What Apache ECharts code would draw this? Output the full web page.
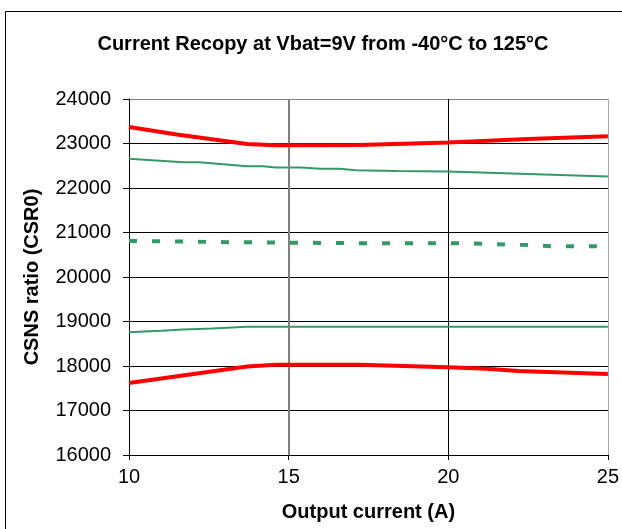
<!DOCTYPE html>
<html><head><meta charset="utf-8">
<script src="https://cdn.jsdelivr.net/npm/echarts@6/dist/echarts.min.js"></script>
<style>html,body{margin:0;padding:0;background:#fff}#c{width:622px;height:529px}</style>
</head><body><div id="c"></div>
<script>
const titleText = 'Current Recopy at Vbat=9V from -40°C to 125°C';
const xName = 'Output current (A)';
const yName = 'CSNS ratio (CSR0)';
const redUpperX = [10, 11.5, 13.7, 14.6, 17.2, 20, 22.5, 25];
const redUpperY = [23370, 23200, 22990, 22960, 22965, 23020, 23100, 23165];
const greenUpperX = [10, 11.7, 12.2, 13.7, 14.2, 14.6, 15.4, 16.0, 16.6, 17.1, 18.4, 20, 25];
const greenUpperY = [22660, 22580, 22580, 22490, 22490, 22460, 22460, 22430, 22430, 22400, 22380, 22370, 22260];
const greenDashX = [10, 13.5, 17.2, 20.3, 22.6, 23.2, 25];
const greenDashY = [20810, 20780, 20760, 20760, 20715, 20690, 20690];
const greenLowerX = [10, 11.0, 11.7, 12.6, 13.7, 25];
const greenLowerY = [18760, 18790, 18820, 18840, 18880, 18880];
const redLowerX = [10, 13.7, 14.6, 17.2, 20, 21.2, 22.2, 25];
const redLowerY = [17620, 17990, 18030, 18030, 17970, 17940, 17890, 17820];

const pair = (xs, ys) => xs.map((x, i) => [x, ys[i]]);
const font = 'Liberation Sans, Arial, sans-serif';
const chart = echarts.init(document.getElementById('c'));
chart.setOption({
  animation: false,
  backgroundColor: '#fff',
  title: {
    text: titleText, left: 318, top: 29, textAlign: 'center',
    textStyle: {fontFamily: font, fontSize: 20, fontWeight: 'bold', color: '#000'}
  },
  graphic: [{type: 'rect', shape: {x: 5.5, y: 11.5, width: 700, height: 600},
    style: {fill: 'none', stroke: '#000', lineWidth: 1}, silent: true, z: -1}],
  grid: {left: 129, right: 8, top: 99, bottom: 74},
  xAxis: {
    type: 'value', min: 10, max: 25, interval: 5,
    name: xName, nameLocation: 'middle', nameGap: 47,
    nameTextStyle: {fontFamily: font, fontSize: 20, fontWeight: 'bold', color: '#000'},
    axisLine: {onZero: false, lineStyle: {color: '#000', width: 1}},
    axisTick: {show: true, inside: false, length: 5, lineStyle: {color: '#000'}},
    axisLabel: {fontFamily: font, fontSize: 20, color: '#000', margin: 12, formatter: v => String(v)},
    splitLine: {show: true, lineStyle: {color: ['#000', '#808080', '#000', '#aaaaaa'], width: 1}}
  },
  yAxis: {
    type: 'value', min: 16000, max: 24000, interval: 1000,
    name: yName, nameLocation: 'middle', nameGap: 87,
    nameTextStyle: {fontFamily: font, fontSize: 20, fontWeight: 'bold', color: '#000'},
    axisLine: {show: true, lineStyle: {color: '#000', width: 1}},
    axisTick: {show: true, inside: false, length: 6, lineStyle: {color: '#000'}},
    axisLabel: {fontFamily: font, fontSize: 20, color: '#000', margin: 18, formatter: v => String(v)},
    splitLine: {show: true, lineStyle: {color: ['#000','#000','#000','#000','#000','#000','#000','#000','#808080'], width: 1}}
  },
  series: [
    {type: 'line', data: [], z: 1,
     markLine: {silent: true, symbol: 'none', label: {show: false}, lineStyle: {color: '#808080', width: 2, type: 'solid'}, data: [{xAxis: 15}]}},
    {type: 'line', data: pair(redUpperX, redUpperY), showSymbol: false, lineStyle: {color: '#ff0000', width: 4}, z: 5},
    {type: 'line', data: pair(greenUpperX, greenUpperY), showSymbol: false, lineStyle: {color: '#339966', width: 2}, z: 3},
    {type: 'line', data: pair(greenDashX, greenDashY), showSymbol: false, lineStyle: {color: '#339966', width: 4, type: [8, 15], cap: 'butt'}, z: 3},
    {type: 'line', data: pair(greenLowerX, greenLowerY), showSymbol: false, lineStyle: {color: '#339966', width: 2}, z: 3},
    {type: 'line', data: pair(redLowerX, redLowerY), showSymbol: false, lineStyle: {color: '#ff0000', width: 4}, z: 5}
  ]
});
</script></body></html>
